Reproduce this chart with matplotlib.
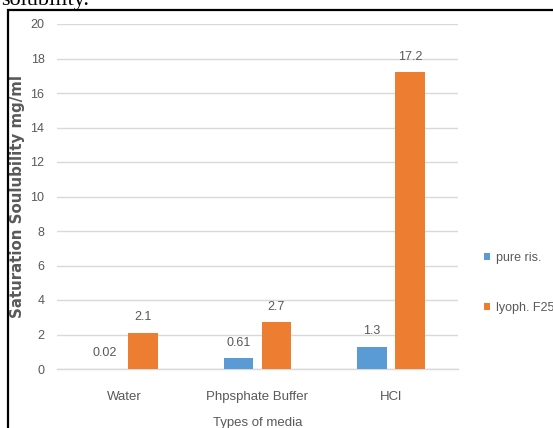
import matplotlib
matplotlib.use('Agg')
from matplotlib import pyplot as plt
from matplotlib import patches
import numpy as np

# ********** Data **********

media = ['Water', 'Phpsphate Buffer', 'HCl']
pure_ris = [0.02, 0.61, 1.3]
lyoph_f25 = [2.1, 2.7, 17.2]
series_names = ['pure ris.', 'lyoph. F25']
y_ticks = [0, 2, 4, 6, 8, 10, 12, 14, 16, 18, 20]

# ********** Style **********

blue = '#5B9BD5'
orange = '#ED7D31'
text_gray = '#595959'
grid_gray = '#D9D9D9'

plt.rcParams['font.family'] = ['Liberation Sans', 'DejaVu Sans']

fig = plt.figure(figsize=(5.53, 4.28), dpi=100)
ax = fig.add_axes([57/553, 59/428, 401/553, 345/428])

x = np.arange(len(media))
width = 0.22
offset = 0.142

bars1 = ax.bar(x - offset, pure_ris, width, color=blue, label=series_names[0], zorder=3)
bars2 = ax.bar(x + offset, lyoph_f25, width, color=orange, label=series_names[1], zorder=3)

for bars, vals in [(bars1, pure_ris), (bars2, lyoph_f25)]:
	for b, v in zip(bars, vals):
		ax.annotate('{:g}'.format(v), xy=(b.get_x() + b.get_width()/2, v), xytext=(0, 7),
			textcoords='offset points', ha='center', va='bottom', fontsize=9, color=text_gray)

ax.set_xlim(-0.5, len(media) - 0.5)
ax.set_ylim(0, 20)
ax.set_yticks(y_ticks)
ax.set_xticks(x)
ax.set_xticklabels(media)
ax.tick_params(axis='both', length=0, labelcolor=text_gray)
ax.tick_params(axis='y', pad=9, labelsize=9)
ax.tick_params(axis='x', pad=16, labelsize=9.5)
ax.grid(axis='y', color=grid_gray, linewidth=1, zorder=0)
for side in ['top', 'right', 'left']:
	ax.spines[side].set_visible(False)
ax.spines['bottom'].set_color(grid_gray)
ax.spines['bottom'].set_linewidth(1)

ax.set_ylabel('Saturation Soulubility mg/ml', family='DejaVu Sans', fontsize=10.8,
	fontweight='bold', color=text_gray, labelpad=4)
ax.set_xlabel('Types of media', fontsize=9.5, color=text_gray, labelpad=10)

# legend at right, spread vertically like the Excel one
fig.legend(handles=[bars1, bars2], labels=series_names, loc='upper left',
	bbox_to_anchor=(479/553, 1 - 247/428), frameon=False, fontsize=9,
	handlelength=0.5, handleheight=0.5, handletextpad=0.45, labelspacing=3.0,
	labelcolor=text_gray, borderaxespad=0)

# caption fragment and frame around the chart
fig.text(1/553, 1 - 5/428, 'solubility.', family='Liberation Serif', fontsize=16, va='baseline', ha='left')
frame = patches.Rectangle((8/553, -0.2), 1.2, 1 - 10/428 + 0.2, transform=fig.transFigure,
	fill=False, edgecolor='black', linewidth=1.6, clip_on=False)
fig.add_artist(frame)

fig.savefig('out.png', dpi=100)
